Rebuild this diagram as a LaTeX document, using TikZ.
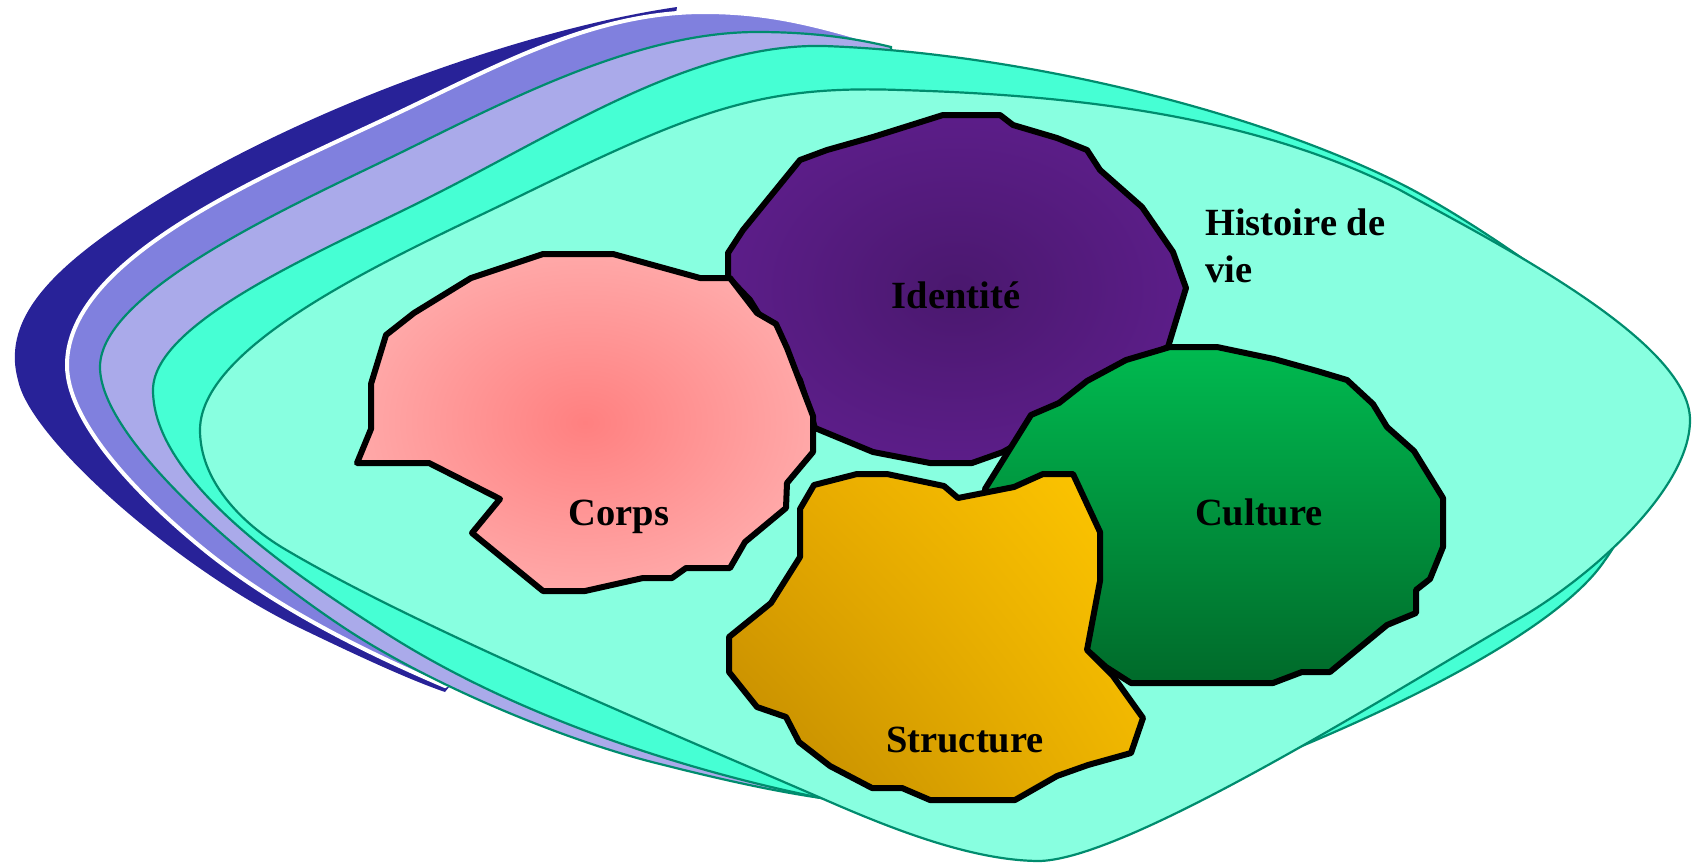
\documentclass[tikz,border=0pt]{standalone}
\usepackage{fontspec}
\setmainfont{Liberation Serif}
\usetikzlibrary{shadings}
\definecolor{navyc}{RGB}{40,34,152}
\definecolor{peric}{RGB}{128,128,222}
\definecolor{lavc}{RGB}{170,170,234}
\definecolor{aquaA}{RGB}{70,255,212}
\definecolor{aquaB}{RGB}{136,255,224}
\definecolor{tealc}{RGB}{0,140,110}
\definecolor{pinkC}{RGB}{255,128,128}
\definecolor{pinkO}{RGB}{255,200,200}
\definecolor{purpC}{RGB}{74,24,110}
\definecolor{purpO}{RGB}{106,34,158}
\definecolor{greenT}{RGB}{0,186,80}
\definecolor{greenB}{RGB}{0,106,42}
\definecolor{goldD}{RGB}{190,136,0}
\definecolor{goldB}{RGB}{255,200,0}
\definecolor{goldM}{RGB}{228,166,0}
\definecolor{goldN}{RGB}{238,180,0}
\pgfdeclareradialshading{pinkrad}{\pgfpointorigin}{color(0bp)=(pinkC); color(45bp)=(pinkO); color(50bp)=(pinkO)}
\pgfdeclareradialshading{purprad}{\pgfpointorigin}{color(0bp)=(purpC); color(45bp)=(purpO); color(50bp)=(purpO)}
\begin{document}
\begin{tikzpicture}[x=1pt,y=-1pt,
  layer/.style={draw=tealc, line width=2.2pt},
  blob/.style={draw=black, line width=6pt, line join=round},
  lbl/.style={font=\fontsize{38.5}{47}\selectfont\bfseries, inner sep=0pt, anchor=base}]
\useasboundingbox (0,0) rectangle (1695,863);
% navy outer layer
\fill[navyc] (677,7) .. controls (520,30) and (300,110) .. (150,205)
  .. controls (60,262) and (0,315) .. (18,380)
  .. controls (30,440) and (180,570) .. (300,628)
  .. controls (360,657) and (410,680) .. (445,692) -- (600,500) -- cycle;
% periwinkle layer with white rim
\filldraw[fill=peric, draw=white, line width=4pt] (891,47)
  .. controls (824,27) and (774,12) .. (704,12)
  .. controls (594,12) and (499,65) .. (400,112)
  .. controls (274,172) and (67,255) .. (67,365)
  .. controls (67,425) and (145,502) .. (207,552)
  .. controls (277,608) and (365,652) .. (445,686)
  -- (600,600) -- (900,420) -- cycle;
% lavender layer
\filldraw[layer, fill=lavc] (891,47)
  .. controls (846,36) and (802,32) .. (757,32)
  .. controls (637,32) and (508,100) .. (400,153)
  .. controls (300,202) and (100,290) .. (100,367)
  .. controls (100,437) and (240,558) .. (340,625)
  .. controls (423,681) and (555,737) .. (652,762)
  .. controls (707,776) and (766,790) .. (821,798)
  -- (900,420) -- cycle;
% aquamarine layer
\filldraw[layer, fill=aquaA] (821,798)
  .. controls (674,768) and (510,713) .. (384,632)
  .. controls (292,573) and (153,480) .. (153,390)
  .. controls (153,320) and (332,247) .. (430,197)
  .. controls (563,130) and (694,43) .. (824,46)
  .. controls (1000,52) and (1230,102) .. (1389,178)
  .. controls (1461,212) and (1553,279) .. (1617,327)
  .. controls (1665,363) and (1650,500) .. (1605,560)
  .. controls (1555,635) and (1372,719) .. (1260,763)
  -- cycle;
% light aquamarine layer (Histoire de vie)
\filldraw[layer, fill=aquaB] (200,430)
  .. controls (200,340) and (410,250) .. (520,196)
  .. controls (696,110) and (760,85) .. (900,90)
  .. controls (1070,95) and (1249,114) .. (1400,190)
  .. controls (1490,240) and (1690,340) .. (1690,420)
  .. controls (1690,490) and (1589,578) .. (1520,618)
  .. controls (1391,693) and (1130,858) .. (1040,861)
  .. controls (970,861) and (885,826) .. (821,798)
  .. controls (655,726) and (412,625) .. (283,548)
  .. controls (240,522) and (200,480) .. (200,430) -- cycle;
% Identite
\shadedraw[blob, shading=purprad] (728,277) -- (728,253) -- (743,230) -- (800,160) -- (827,150) -- (873,137) -- (943,115) -- (1000,115) -- (1013,125) -- (1057,138) -- (1087,150) -- (1100,170) -- (1142,207) -- (1173,252) -- (1186,288) -- (1168,347) -- (1128,365) -- (1060,420) -- (1003,452) -- (972,463) -- (930,463) -- (873,452) -- (815,428) -- (800,380) -- (750,300) -- cycle;
% Corps
\shadedraw[blob, shading=pinkrad] (543,254) -- (613,254) -- (700,278) -- (730,278) -- (757,313) -- (776,324) -- (787,348) -- (813,416) -- (813,452) -- (787,483) -- (786,508) -- (745,542) -- (730,568) -- (686,568) -- (672,578) -- (643,578) -- (585,591) -- (543,591) -- (472,533) -- (500,499) -- (429,463) -- (357,463) -- (371,429) -- (371,384) -- (386,335) -- (414,313) -- (471,278) -- cycle;
% Culture
\shadedraw[blob, top color=greenT, bottom color=greenB] (1170,347) -- (1217,347) -- (1274,359) -- (1317,371) -- (1347,380) -- (1373,404) -- (1387,427) -- (1414,451) -- (1443,498) -- (1443,547) -- (1430,579) -- (1416,590) -- (1416,613) -- (1387,625) -- (1330,672) -- (1302,672) -- (1273,683) -- (1131,683) -- (1106,667) -- (1087,650) -- (1000,560) -- (985,489) -- (1031,415) -- (1059,403) -- (1087,381) -- (1126,360) -- cycle;
% Structure
\shadedraw[blob, lower left=goldD, upper right=goldB, upper left=goldM, lower right=goldN] (814,485) -- (857,474) -- (887,474) -- (944,486) -- (958,498) -- (1014,487) -- (1043,474) -- (1073,474) -- (1100,532) -- (1100,581) -- (1087,650) -- (1113,676) -- (1143,718) -- (1131,753) -- (1088,765) -- (1057,776) -- (1015,800) -- (930,800) -- (902,788) -- (872,788) -- (830,766) -- (799,742) -- (786,717) -- (757,707) -- (729,672) -- (729,637) -- (771,603) -- (800,557) -- (800,509) -- cycle;
% labels
\node[lbl] (identite) at (956,308) {Identité};
\node[lbl] (corps) at (619,525) {Corps};
\node[lbl] (culture) at (1259,525) {Culture};
\node[lbl] (structure) at (965,752) {Structure};
\node[lbl, anchor=base west] (histoire) at (1205,235) {Histoire de};
\node[lbl, anchor=base west] (vie) at (1205,282) {vie};
\end{tikzpicture}
\end{document}
